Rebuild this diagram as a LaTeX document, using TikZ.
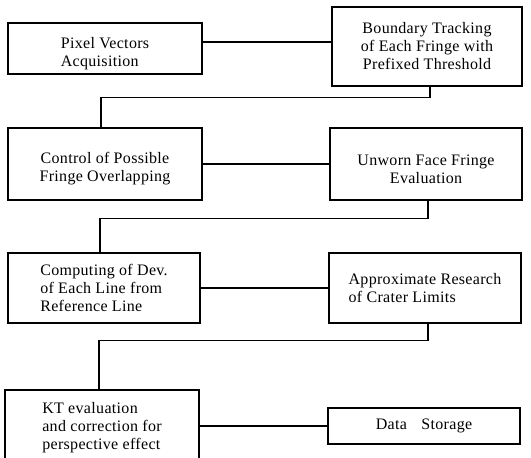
\documentclass[tikz,border=0pt]{standalone}
\usepackage{fontspec}
\setmainfont{Liberation Serif}[LetterSpace=2]
\begin{document}
\begin{tikzpicture}[x=1pt,y=-1pt,
  box/.style={draw, line width=1.2pt, inner sep=0pt, align=left,
    font=\fontsize{16}{18}\selectfont},
  boxc/.style={box, align=center},
  conn/.style={line width=1.2pt}]
\useasboundingbox (0,0) rectangle (531,458);
\node[box,  minimum width=194pt, minimum height=51pt] (A) at (105,48.5) {\mbox{}\\[3pt]Pixel Vectors\\Acquisition};
\node[boxc, minimum width=190pt, minimum height=79pt] (B) at (427,46.5) {Boundary Tracking\\of Each Fringe with\\Prefixed Threshold};
\node[boxc, minimum width=194pt, minimum height=72pt] (C) at (105,164) {\mbox{}\\[3pt]Control of Possible\\Fringe Overlapping};
\node[boxc, minimum width=192pt, minimum height=72pt] (D) at (426,164) {\mbox{}\\[3pt]Unworn Face Fringe\\Evaluation};
\node[box,  minimum width=192pt, minimum height=70pt] (E) at (104,288) {Computing of Dev.\\of Each Line from\\Reference Line};
\node[box,  minimum width=192pt, minimum height=70pt] (F) at (425,288) {Approximate Research\\of Crater Limits};
\node[box,  minimum width=194pt, minimum height=76pt] (G) at (102,428) {KT evaluation\\and correction for\\perspective effect};
\node[boxc, minimum width=192pt, minimum height=36pt] (H) at (424,426) {Data\hspace{0.9em}Storage};

\draw[conn] ([yshift=6.5pt]A.east) coordinate (a1) -- (B.west |- a1);
\draw[conn] ([xshift=3pt]B.south) -- ++(0,11) -| ([xshift=-4pt]C.north);
\draw[conn] (C.east) -- (D.west);
\draw[conn] ([xshift=2pt]D.south) -- ++(0,18) -| ([xshift=-4pt]E.north);
\draw[conn] (E.east) -- (F.west);
\draw[conn] ([xshift=3pt]F.south) -- ++(0,17) -| ([xshift=-3pt]G.north);
\draw[conn] (G.east |- H.west) -- (H.west);
\end{tikzpicture}
\end{document}
